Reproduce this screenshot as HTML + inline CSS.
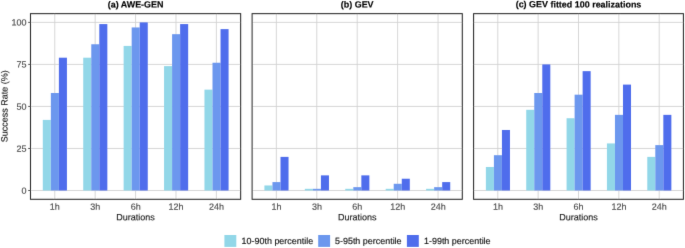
<!DOCTYPE html><html><head><meta charset="utf-8"><title>chart</title><style>html,body{margin:0;padding:0;background:#fff}svg{display:block}text{font-family:"Liberation Sans",sans-serif;stroke-width:0.15px;paint-order:stroke}</style></head><body>
<svg width="685" height="248" viewBox="0 0 685 248">
<defs><filter id="soft" x="0" y="0" width="685" height="248" filterUnits="userSpaceOnUse"><feConvolveMatrix order="3" kernelMatrix="0.0064 0.0672 0.0064 0.0672 0.7056 0.0672 0.0064 0.0672 0.0064" divisor="1" edgeMode="duplicate" preserveAlpha="false"/></filter></defs>
<rect width="685" height="248" fill="#fff"/>
<g filter="url(#soft)">
<line x1="30.50" x2="240.65" y1="190.50" y2="190.50" stroke="#D2D2D2" stroke-width="0.9"/>
<line x1="30.50" x2="240.65" y1="148.47" y2="148.47" stroke="#D2D2D2" stroke-width="0.9"/>
<line x1="30.50" x2="240.65" y1="106.45" y2="106.45" stroke="#D2D2D2" stroke-width="0.9"/>
<line x1="30.50" x2="240.65" y1="64.42" y2="64.42" stroke="#D2D2D2" stroke-width="0.9"/>
<line x1="30.50" x2="240.65" y1="22.40" y2="22.40" stroke="#D2D2D2" stroke-width="0.9"/>
<line x1="54.75" x2="54.75" y1="13.65" y2="199.30" stroke="#D2D2D2" stroke-width="0.9"/>
<line x1="95.16" x2="95.16" y1="13.65" y2="199.30" stroke="#D2D2D2" stroke-width="0.9"/>
<line x1="135.57" x2="135.57" y1="13.65" y2="199.30" stroke="#D2D2D2" stroke-width="0.9"/>
<line x1="175.99" x2="175.99" y1="13.65" y2="199.30" stroke="#D2D2D2" stroke-width="0.9"/>
<line x1="216.40" x2="216.40" y1="13.65" y2="199.30" stroke="#D2D2D2" stroke-width="0.9"/>
<rect x="42.80" y="119.90" width="8.04" height="70.60" fill="#92D7E8"/>
<rect x="50.85" y="93.00" width="8.04" height="97.50" fill="#6C97EE"/>
<rect x="58.89" y="57.70" width="8.04" height="132.80" fill="#4F6DEC"/>
<rect x="83.22" y="57.70" width="8.04" height="132.80" fill="#92D7E8"/>
<rect x="91.26" y="44.25" width="8.04" height="146.25" fill="#6C97EE"/>
<rect x="99.30" y="24.08" width="8.04" height="166.42" fill="#4F6DEC"/>
<rect x="123.63" y="45.93" width="8.04" height="144.57" fill="#92D7E8"/>
<rect x="131.67" y="27.44" width="8.04" height="163.06" fill="#6C97EE"/>
<rect x="139.72" y="22.40" width="8.04" height="168.10" fill="#4F6DEC"/>
<rect x="164.05" y="66.11" width="8.04" height="124.39" fill="#92D7E8"/>
<rect x="172.09" y="34.17" width="8.04" height="156.33" fill="#6C97EE"/>
<rect x="180.13" y="24.08" width="8.04" height="166.42" fill="#4F6DEC"/>
<rect x="204.46" y="89.64" width="8.04" height="100.86" fill="#92D7E8"/>
<rect x="212.50" y="62.74" width="8.04" height="127.76" fill="#6C97EE"/>
<rect x="220.54" y="29.12" width="8.04" height="161.38" fill="#4F6DEC"/>
<rect x="30.50" y="13.65" width="210.15" height="185.65" fill="none" stroke="#2B2B2B" stroke-width="1.05"/>
<text transform="translate(135.57,7.4) rotate(0.05)" font-size="8.95" font-weight="bold" text-anchor="middle" fill="#000" stroke="#000">(a) AWE-GEN</text>
<text transform="translate(54.85,209.75) rotate(0.05)" font-size="9" text-anchor="middle" fill="#4D4D4D" stroke="#4D4D4D">1h</text>
<text transform="translate(95.26,209.75) rotate(0.05)" font-size="9" text-anchor="middle" fill="#4D4D4D" stroke="#4D4D4D">3h</text>
<text transform="translate(135.67,209.75) rotate(0.05)" font-size="9" text-anchor="middle" fill="#4D4D4D" stroke="#4D4D4D">6h</text>
<text transform="translate(176.09,209.75) rotate(0.05)" font-size="9" text-anchor="middle" fill="#4D4D4D" stroke="#4D4D4D">12h</text>
<text transform="translate(216.50,209.75) rotate(0.05)" font-size="9" text-anchor="middle" fill="#4D4D4D" stroke="#4D4D4D">24h</text>
<text transform="translate(135.57,220.3) rotate(0.05)" font-size="9" text-anchor="middle" fill="#222" stroke="#222">Durations</text>
<line x1="252.10" x2="462.30" y1="190.50" y2="190.50" stroke="#D2D2D2" stroke-width="0.9"/>
<line x1="252.10" x2="462.30" y1="148.47" y2="148.47" stroke="#D2D2D2" stroke-width="0.9"/>
<line x1="252.10" x2="462.30" y1="106.45" y2="106.45" stroke="#D2D2D2" stroke-width="0.9"/>
<line x1="252.10" x2="462.30" y1="64.42" y2="64.42" stroke="#D2D2D2" stroke-width="0.9"/>
<line x1="252.10" x2="462.30" y1="22.40" y2="22.40" stroke="#D2D2D2" stroke-width="0.9"/>
<line x1="276.35" x2="276.35" y1="13.65" y2="199.30" stroke="#D2D2D2" stroke-width="0.9"/>
<line x1="316.78" x2="316.78" y1="13.65" y2="199.30" stroke="#D2D2D2" stroke-width="0.9"/>
<line x1="357.20" x2="357.20" y1="13.65" y2="199.30" stroke="#D2D2D2" stroke-width="0.9"/>
<line x1="397.62" x2="397.62" y1="13.65" y2="199.30" stroke="#D2D2D2" stroke-width="0.9"/>
<line x1="438.05" x2="438.05" y1="13.65" y2="199.30" stroke="#D2D2D2" stroke-width="0.9"/>
<rect x="264.41" y="185.46" width="8.04" height="5.04" fill="#92D7E8"/>
<rect x="272.45" y="182.09" width="8.04" height="8.41" fill="#6C97EE"/>
<rect x="280.50" y="156.88" width="8.04" height="33.62" fill="#4F6DEC"/>
<rect x="304.83" y="188.82" width="8.04" height="1.68" fill="#92D7E8"/>
<rect x="312.87" y="188.82" width="8.04" height="1.68" fill="#6C97EE"/>
<rect x="320.92" y="175.37" width="8.04" height="15.13" fill="#4F6DEC"/>
<rect x="345.25" y="188.82" width="8.04" height="1.68" fill="#92D7E8"/>
<rect x="353.30" y="187.14" width="8.04" height="3.36" fill="#6C97EE"/>
<rect x="361.34" y="175.37" width="8.04" height="15.13" fill="#4F6DEC"/>
<rect x="385.68" y="188.82" width="8.04" height="1.68" fill="#92D7E8"/>
<rect x="393.72" y="183.78" width="8.04" height="6.72" fill="#6C97EE"/>
<rect x="401.77" y="178.73" width="8.04" height="11.77" fill="#4F6DEC"/>
<rect x="426.10" y="188.82" width="8.04" height="1.68" fill="#92D7E8"/>
<rect x="434.14" y="187.14" width="8.04" height="3.36" fill="#6C97EE"/>
<rect x="442.19" y="182.09" width="8.04" height="8.41" fill="#4F6DEC"/>
<rect x="252.10" y="13.65" width="210.20" height="185.65" fill="none" stroke="#2B2B2B" stroke-width="1.05"/>
<text transform="translate(357.20,7.4) rotate(0.05)" font-size="8.95" font-weight="bold" text-anchor="middle" fill="#000" stroke="#000">(b) GEV</text>
<text transform="translate(276.45,209.75) rotate(0.05)" font-size="9" text-anchor="middle" fill="#4D4D4D" stroke="#4D4D4D">1h</text>
<text transform="translate(316.88,209.75) rotate(0.05)" font-size="9" text-anchor="middle" fill="#4D4D4D" stroke="#4D4D4D">3h</text>
<text transform="translate(357.30,209.75) rotate(0.05)" font-size="9" text-anchor="middle" fill="#4D4D4D" stroke="#4D4D4D">6h</text>
<text transform="translate(397.72,209.75) rotate(0.05)" font-size="9" text-anchor="middle" fill="#4D4D4D" stroke="#4D4D4D">12h</text>
<text transform="translate(438.15,209.75) rotate(0.05)" font-size="9" text-anchor="middle" fill="#4D4D4D" stroke="#4D4D4D">24h</text>
<text transform="translate(357.20,220.3) rotate(0.05)" font-size="9" text-anchor="middle" fill="#222" stroke="#222">Durations</text>
<line x1="473.60" x2="683.40" y1="190.50" y2="190.50" stroke="#D2D2D2" stroke-width="0.9"/>
<line x1="473.60" x2="683.40" y1="148.47" y2="148.47" stroke="#D2D2D2" stroke-width="0.9"/>
<line x1="473.60" x2="683.40" y1="106.45" y2="106.45" stroke="#D2D2D2" stroke-width="0.9"/>
<line x1="473.60" x2="683.40" y1="64.42" y2="64.42" stroke="#D2D2D2" stroke-width="0.9"/>
<line x1="473.60" x2="683.40" y1="22.40" y2="22.40" stroke="#D2D2D2" stroke-width="0.9"/>
<line x1="497.81" x2="497.81" y1="13.65" y2="199.30" stroke="#D2D2D2" stroke-width="0.9"/>
<line x1="538.15" x2="538.15" y1="13.65" y2="199.30" stroke="#D2D2D2" stroke-width="0.9"/>
<line x1="578.50" x2="578.50" y1="13.65" y2="199.30" stroke="#D2D2D2" stroke-width="0.9"/>
<line x1="618.85" x2="618.85" y1="13.65" y2="199.30" stroke="#D2D2D2" stroke-width="0.9"/>
<line x1="659.19" x2="659.19" y1="13.65" y2="199.30" stroke="#D2D2D2" stroke-width="0.9"/>
<rect x="485.88" y="166.97" width="8.03" height="23.53" fill="#92D7E8"/>
<rect x="493.91" y="155.20" width="8.03" height="35.30" fill="#6C97EE"/>
<rect x="501.94" y="129.98" width="8.03" height="60.52" fill="#4F6DEC"/>
<rect x="526.23" y="109.81" width="8.03" height="80.69" fill="#92D7E8"/>
<rect x="534.26" y="93.00" width="8.03" height="97.50" fill="#6C97EE"/>
<rect x="542.29" y="64.42" width="8.03" height="126.08" fill="#4F6DEC"/>
<rect x="566.58" y="118.22" width="8.03" height="72.28" fill="#92D7E8"/>
<rect x="574.61" y="94.68" width="8.03" height="95.82" fill="#6C97EE"/>
<rect x="582.63" y="71.15" width="8.03" height="119.35" fill="#4F6DEC"/>
<rect x="606.92" y="143.43" width="8.03" height="47.07" fill="#92D7E8"/>
<rect x="614.95" y="114.86" width="8.03" height="75.64" fill="#6C97EE"/>
<rect x="622.98" y="84.60" width="8.03" height="105.90" fill="#4F6DEC"/>
<rect x="647.27" y="156.88" width="8.03" height="33.62" fill="#92D7E8"/>
<rect x="655.30" y="145.11" width="8.03" height="45.39" fill="#6C97EE"/>
<rect x="663.33" y="114.86" width="8.03" height="75.64" fill="#4F6DEC"/>
<rect x="473.60" y="13.65" width="209.80" height="185.65" fill="none" stroke="#2B2B2B" stroke-width="1.05"/>
<text transform="translate(578.50,7.4) rotate(0.05)" font-size="8.95" font-weight="bold" text-anchor="middle" fill="#000" stroke="#000">(c) GEV fitted 100 realizations</text>
<text transform="translate(497.91,209.75) rotate(0.05)" font-size="9" text-anchor="middle" fill="#4D4D4D" stroke="#4D4D4D">1h</text>
<text transform="translate(538.25,209.75) rotate(0.05)" font-size="9" text-anchor="middle" fill="#4D4D4D" stroke="#4D4D4D">3h</text>
<text transform="translate(578.60,209.75) rotate(0.05)" font-size="9" text-anchor="middle" fill="#4D4D4D" stroke="#4D4D4D">6h</text>
<text transform="translate(618.95,209.75) rotate(0.05)" font-size="9" text-anchor="middle" fill="#4D4D4D" stroke="#4D4D4D">12h</text>
<text transform="translate(659.29,209.75) rotate(0.05)" font-size="9" text-anchor="middle" fill="#4D4D4D" stroke="#4D4D4D">24h</text>
<text transform="translate(578.50,220.3) rotate(0.05)" font-size="9" text-anchor="middle" fill="#222" stroke="#222">Durations</text>
<line x1="28.2" x2="30.5" y1="190.50" y2="190.50" stroke="#2B2B2B" stroke-width="0.8"/>
<text transform="translate(26.5,193.70) rotate(0.05)" font-size="9" text-anchor="end" fill="#4D4D4D" stroke="#4D4D4D">0</text>
<line x1="28.2" x2="30.5" y1="148.47" y2="148.47" stroke="#2B2B2B" stroke-width="0.8"/>
<text transform="translate(26.5,151.67) rotate(0.05)" font-size="9" text-anchor="end" fill="#4D4D4D" stroke="#4D4D4D">25</text>
<line x1="28.2" x2="30.5" y1="106.45" y2="106.45" stroke="#2B2B2B" stroke-width="0.8"/>
<text transform="translate(26.5,109.65) rotate(0.05)" font-size="9" text-anchor="end" fill="#4D4D4D" stroke="#4D4D4D">50</text>
<line x1="28.2" x2="30.5" y1="64.42" y2="64.42" stroke="#2B2B2B" stroke-width="0.8"/>
<text transform="translate(26.5,67.62) rotate(0.05)" font-size="9" text-anchor="end" fill="#4D4D4D" stroke="#4D4D4D">75</text>
<line x1="28.2" x2="30.5" y1="22.40" y2="22.40" stroke="#2B2B2B" stroke-width="0.8"/>
<text transform="translate(26.5,25.60) rotate(0.05)" font-size="9" text-anchor="end" fill="#4D4D4D" stroke="#4D4D4D">100</text>
<text transform="translate(7.5,106.3) rotate(-90.05)" font-size="9" text-anchor="middle" fill="#222" stroke="#222">Success Rate (%)</text>
<rect x="224.40" y="235" width="11.9" height="11.9" fill="#92D7E8"/>
<text transform="translate(241.60,243.9) rotate(0.05)" font-size="8.95" fill="#111" stroke="#111">10-90th percentile</text>
<rect x="318.20" y="235" width="11.9" height="11.9" fill="#6C97EE"/>
<text transform="translate(335.00,243.9) rotate(0.05)" font-size="8.95" fill="#111" stroke="#111">5-95th percentile</text>
<rect x="406.90" y="235" width="11.9" height="11.9" fill="#4F6DEC"/>
<text transform="translate(424.00,243.9) rotate(0.05)" font-size="8.95" fill="#111" stroke="#111">1-99th percentile</text>
</g></svg></body></html>
